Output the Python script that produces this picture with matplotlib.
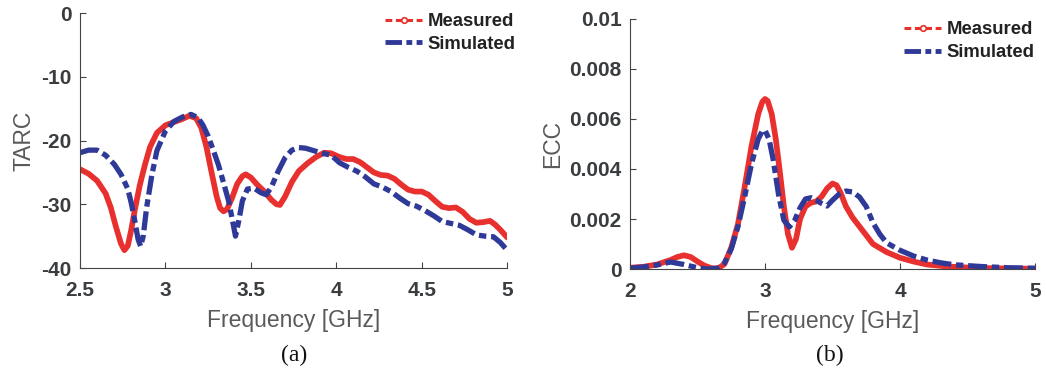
import matplotlib
matplotlib.use("Agg")
import matplotlib.pyplot as plt
from matplotlib.lines import Line2D

plt.rcParams["font.family"] = ["Liberation Sans", "DejaVu Sans"]
plt.rcParams["axes.unicode_minus"] = False

# TARC (dB) vs frequency (GHz)
tarc_meas_f = [2.50, 2.55, 2.60, 2.65, 2.68, 2.71, 2.74, 2.76, 2.78, 2.80, 2.82, 2.85, 2.88,
               2.91, 2.95, 3.00, 3.05, 3.10, 3.14, 3.18, 3.21, 3.24, 3.27, 3.30, 3.32, 3.34,
               3.36, 3.39, 3.42, 3.45, 3.47, 3.50, 3.54, 3.58, 3.62, 3.65, 3.67, 3.70, 3.74,
               3.78, 3.83, 3.88, 3.93, 3.97, 4.02, 4.06, 4.10, 4.14, 4.18, 4.22, 4.26, 4.30,
               4.34, 4.38, 4.42, 4.46, 4.50, 4.54, 4.58, 4.62, 4.66, 4.70, 4.74, 4.78, 4.82,
               4.86, 4.90, 4.93, 4.96, 5.00]
tarc_meas = [-24.5, -25.2, -26.3, -28.3, -30.5, -33.5, -36.2, -37.2, -36.5, -34.0, -31.0,
             -27.0, -23.8, -21.0, -18.8, -17.6, -17.1, -16.6, -16.1, -16.5, -18.0, -21.0,
             -25.0, -28.8, -30.6, -31.1, -30.8, -29.0, -26.8, -25.6, -25.3, -25.8, -27.0,
             -28.0, -29.3, -30.0, -30.1, -28.8, -26.5, -24.8, -23.6, -22.6, -21.9, -22.0,
             -22.6, -22.9, -22.9, -23.4, -24.2, -25.0, -25.4, -25.5, -26.0, -26.9, -27.7,
             -28.0, -28.0, -28.5, -29.5, -30.4, -30.6, -30.5, -31.2, -32.3, -32.9, -32.8,
             -32.6, -33.2, -34.0, -35.2]

tarc_sim_f = [2.50, 2.55, 2.60, 2.65, 2.70, 2.74, 2.78, 2.80, 2.82, 2.84, 2.855, 2.87, 2.89,
              2.92, 2.95, 3.00, 3.05, 3.10, 3.15, 3.19, 3.22, 3.25, 3.28, 3.31, 3.34, 3.37,
              3.39, 3.41, 3.43, 3.45, 3.48, 3.52, 3.56, 3.59, 3.62, 3.66, 3.70, 3.74, 3.78,
              3.82, 3.87, 3.92, 3.97, 4.02, 4.07, 4.12, 4.17, 4.22, 4.27, 4.32, 4.37, 4.42,
              4.47, 4.52, 4.57, 4.62, 4.67, 4.72, 4.77, 4.82, 4.87, 4.92, 4.96, 5.00]
tarc_sim = [-21.9, -21.5, -21.5, -22.3, -23.7, -25.3, -27.6, -29.8, -32.5, -35.5, -36.6,
            -35.0, -30.5, -25.5, -21.6, -18.5, -17.0, -16.3, -15.9, -16.4, -17.6, -19.3,
            -21.5, -23.8, -26.6, -29.5, -32.2, -35.0, -32.5, -29.5, -27.6, -27.5, -28.2,
            -28.5, -27.3, -24.8, -22.7, -21.5, -21.1, -21.2, -21.6, -22.0, -22.3, -23.5,
            -24.2, -24.8, -25.7, -26.8, -27.3, -28.0, -29.0, -29.9, -30.3, -31.0, -31.8,
            -32.7, -33.0, -33.3, -34.0, -34.8, -35.0, -35.1, -36.0, -37.2]

# ECC vs frequency (GHz)
ecc_meas_f = [2.00, 2.10, 2.20, 2.30, 2.35, 2.40, 2.45, 2.50, 2.55, 2.60, 2.65, 2.70, 2.75,
              2.80, 2.85, 2.90, 2.95, 2.98, 3.00, 3.02, 3.05, 3.08, 3.11, 3.14, 3.17, 3.20,
              3.23, 3.26, 3.30, 3.34, 3.38, 3.42, 3.46, 3.50, 3.53, 3.56, 3.60, 3.65, 3.70,
              3.75, 3.80, 3.90, 4.00, 4.10, 4.20, 4.35, 4.50, 4.70, 5.00]
ecc_meas = [0.00005, 0.00009, 0.00018, 0.00036, 0.00048, 0.00055, 0.00048, 0.00030, 0.00014,
            0.00004, 0.00001, 0.00020, 0.00085, 0.00180, 0.00330, 0.00490, 0.00620, 0.00668,
            0.00680, 0.00672, 0.00620, 0.00520, 0.00390, 0.00250, 0.00140, 0.00085, 0.00120,
            0.00200, 0.00250, 0.00265, 0.00270, 0.00290, 0.00322, 0.00342, 0.00335, 0.00305,
            0.00250, 0.00205, 0.00170, 0.00135, 0.00100, 0.00068, 0.00045, 0.00030, 0.00018,
            0.00010, 0.00006, 0.00003, 0.00001]

ecc_sim_f = [2.00, 2.10, 2.20, 2.30, 2.40, 2.50, 2.55, 2.60, 2.65, 2.70, 2.75, 2.80, 2.85,
             2.90, 2.95, 2.98, 3.00, 3.03, 3.06, 3.10, 3.14, 3.18, 3.22, 3.26, 3.30, 3.34,
             3.38, 3.42, 3.46, 3.50, 3.55, 3.60, 3.65, 3.70, 3.75, 3.80, 3.85, 3.90, 4.00,
             4.10, 4.20, 4.30, 4.40, 4.60, 4.80, 5.00]
ecc_sim = [0.00003, 0.00008, 0.00016, 0.00028, 0.00018, 0.00005, 0.00001, 0.0, 0.00004,
           0.00024, 0.00080, 0.00170, 0.00290, 0.00420, 0.00520, 0.00552, 0.00555, 0.00520,
           0.00440, 0.00300, 0.00195, 0.00168, 0.00195, 0.00245, 0.00280, 0.00285, 0.00275,
           0.00262, 0.00252, 0.00275, 0.00300, 0.00312, 0.00308, 0.00288, 0.00250, 0.00185,
           0.00140, 0.00105, 0.00075, 0.00052, 0.00036, 0.00025, 0.00017, 0.00010, 0.00005,
           0.00003]

tarc_xticks = [2.5, 3, 3.5, 4, 4.5, 5]
tarc_xticklabels = ["2.5", "3", "3.5", "4", "4.5", "5"]
tarc_yticks = [-40, -30, -20, -10, 0]
ecc_xticks = [2, 3, 4, 5]
ecc_yticks = [0, 0.002, 0.004, 0.006, 0.008, 0.01]
ecc_yticklabels = ["0", "0.002", "0.004", "0.006", "0.008", "0.01"]

RED = "#e8302e"
BLUE = "#2f3a98"
TICK_C = "#3a3d40"
LABEL_C = "#5a5a5a"
SIM_DASH = (0, (3.6, 0.9, 1.4, 0.9))

fig = plt.figure(figsize=(10.47, 3.71), dpi=100)
ax1 = fig.add_axes([0.0764, 0.2776, 0.408, 0.687])
ax2 = fig.add_axes([0.6017, 0.2749, 0.3868, 0.674])


def style(ax):
    for s in ("top", "right"):
        ax.spines[s].set_visible(False)
    for s in ("left", "bottom"):
        ax.spines[s].set_color("#444444")
        ax.spines[s].set_linewidth(0.8)
    ax.tick_params(direction="in", length=4, width=0.8, colors="#444444",
                   labelcolor=TICK_C, labelsize=15)
    ax.tick_params(axis="x", pad=9.5)
    ax.tick_params(axis="y", pad=6)
    for lab in ax.get_xticklabels() + ax.get_yticklabels():
        lab.set_fontweight("bold")


def legend(ax, anchor):
    h_meas = Line2D([], [], color=RED, lw=2.2, ls=(0, (2.2, 1.2)), marker="o",
                    markersize=4, markerfacecolor="white", markeredgecolor=RED,
                    markeredgewidth=1.2)
    h_sim = Line2D([], [], color=BLUE, lw=3.5, ls=(0, (3.4, 0.9, 1.2, 0.9)))
    leg = ax.legend([h_meas, h_sim], ["Measured", "Simulated"], loc="upper right",
                    bbox_to_anchor=anchor, frameon=False, handlelength=2.0,
                    handletextpad=0.3, labelspacing=0.3, borderaxespad=0.0,
                    borderpad=0.0, prop={"weight": "bold", "size": 13.3})
    for t in leg.get_texts():
        t.set_color("#222222")
    return leg


# (a) TARC
ax1.plot(tarc_meas_f, tarc_meas, color=RED, lw=4.1, solid_capstyle="round",
         solid_joinstyle="round")
ax1.plot(tarc_sim_f, tarc_sim, color=BLUE, lw=3.8, ls=SIM_DASH)
ax1.set_xlim(2.5, 5)
ax1.set_ylim(-40, 0)
ax1.set_xticks(tarc_xticks)
ax1.set_xticklabels(tarc_xticklabels)
ax1.set_yticks(tarc_yticks)
ax1.set_xlabel("Frequency [GHz]", fontsize=16.5, color=LABEL_C, labelpad=6)
ax1.set_ylabel("TARC", fontsize=16.5, color=LABEL_C, labelpad=4)
style(ax1)
legend(ax1, (1.02, 1.0))

# (b) ECC
ax2.plot(ecc_meas_f, ecc_meas, color=RED, lw=4.1, solid_capstyle="round",
         solid_joinstyle="round")
ax2.plot(ecc_sim_f, ecc_sim, color=BLUE, lw=3.8, ls=SIM_DASH)
ax2.set_xlim(2, 5)
ax2.set_ylim(0, 0.01)
ax2.set_xticks(ecc_xticks)
ax2.set_yticks(ecc_yticks)
ax2.set_yticklabels(ecc_yticklabels)
ax2.set_xlabel("Frequency [GHz]", fontsize=16.5, color=LABEL_C, labelpad=6)
ax2.set_ylabel("ECC", fontsize=16.5, color=LABEL_C, labelpad=4)
style(ax2)
legend(ax2, (1.0, 0.99))

fig.text(0.281, 0.042, "(a)", fontsize=17, family=["Liberation Serif", "DejaVu Serif"],
         ha="center", va="center", color="#111111")
fig.text(0.793, 0.042, "(b)", fontsize=17, family=["Liberation Serif", "DejaVu Serif"],
         ha="center", va="center", color="#111111")

fig.savefig("out.png", dpi=100)
